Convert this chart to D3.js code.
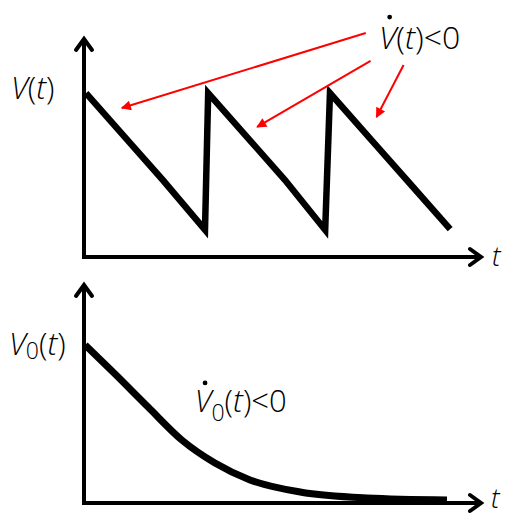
<!DOCTYPE html>
<html>
<head>
<meta charset="utf-8">
<script src="https://cdn.jsdelivr.net/npm/d3@7"></script>
<style>
  html, body { margin: 0; padding: 0; background: #fff; }
  svg { display: block; }
  text { font-family: "Open Sans", "DejaVu Sans", sans-serif; font-weight: 300; fill: #000; }
</style>
</head>
<body>
<svg id="chart" width="505" height="515"></svg>
<script>
// ---- Data ----
// Top panel: sawtooth V(t)
const sawT = [0.05, 1.16, 1.98, 3.04, 3.12, 4.23, 5.05, 6.06, 6.18, 7.29, 8.11, 9.20];
const sawV = [7.45, 5.18, 3.50, 1.23, 7.45, 5.18, 3.50, 1.23, 7.45, 5.18, 3.50, 1.27];

// Bottom panel: decaying V0(t)
const decT = [0.03, 0.78, 1.61, 2.46, 3.29, 4.17, 5.43, 7.11, 9.12];
const decV = [7.18, 5.86, 4.36, 2.86, 1.82, 1.05, 0.50, 0.23, 0.14];

// Annotation arrows (top panel, data units): start and end
const arrowStartT = [7.08, 7.20, 8.03];
const arrowStartV = [10.18, 8.91, 8.73];
const arrowEndT   = [0.95, 4.35, 7.35];
const arrowEndV   = [6.77, 5.91, 6.36];

// Axis extents (data units)
const tDomain = [0, 10];
const vDomain = [0, 10];

// ---- Layout ----
const svg = d3.select("#chart");
const x = d3.scaleLinear().domain(tDomain).range([84, 482]);
const yTop = d3.scaleLinear().domain(vDomain).range([257, 37]);
const yBot = d3.scaleLinear().domain(vDomain).range([503, 283]);

function drawAxes(y) {
  const g = svg.append("g");
  const x0 = x(0), y0 = y(0), xEnd = x(tDomain[1]), yEnd = y(vDomain[1]);
  g.append("line").attr("x1", x0).attr("y1", y0 + 2).attr("x2", x0).attr("y2", yEnd + 1)
    .attr("stroke", "#000").attr("stroke-width", 4);
  g.append("line").attr("x1", x0 - 2).attr("y1", y0).attr("x2", xEnd - 1).attr("y2", y0)
    .attr("stroke", "#000").attr("stroke-width", 4);
  g.append("path")
    .attr("d", `M${x0 - 8},${yEnd + 13} L${x0},${yEnd + 2} L${x0 + 8},${yEnd + 13}`)
    .attr("fill", "none").attr("stroke", "#000").attr("stroke-width", 4)
    .attr("stroke-linejoin", "miter").attr("stroke-linecap", "round");
  g.append("path")
    .attr("d", `M${xEnd - 12},${y0 - 8} L${xEnd - 1},${y0} L${xEnd - 12},${y0 + 8}`)
    .attr("fill", "none").attr("stroke", "#000").attr("stroke-width", 4)
    .attr("stroke-linejoin", "miter").attr("stroke-linecap", "round");
}

drawAxes(yTop);
drawAxes(yBot);

// Sawtooth line
const sawData = sawT.map((t, i) => ({ t, v: sawV[i] }));
svg.append("path")
  .datum(sawData)
  .attr("d", d3.line().x(d => x(d.t)).y(d => yTop(d.v)).curve(d3.curveLinear))
  .attr("fill", "none").attr("stroke", "#000").attr("stroke-width", 6.5)
  .attr("stroke-linejoin", "miter").attr("stroke-miterlimit", 10);

// Decay curve
const decData = decT.map((t, i) => ({ t, v: decV[i] }));
svg.append("path")
  .datum(decData)
  .attr("d", d3.line().x(d => x(d.t)).y(d => yBot(d.v)).curve(d3.curveMonotoneX))
  .attr("fill", "none").attr("stroke", "#000").attr("stroke-width", 7);

// Red arrows
const defs = svg.append("defs");
defs.append("marker")
  .attr("id", "redhead")
  .attr("viewBox", "0 0 10 10")
  .attr("refX", 9).attr("refY", 5)
  .attr("markerWidth", 6).attr("markerHeight", 5)
  .attr("markerUnits", "strokeWidth")
  .attr("orient", "auto")
  .append("path").attr("d", "M0,0 L10,5 L0,10 Z").attr("fill", "#ff0000");

arrowStartT.forEach((t0, i) => {
  svg.append("line")
    .attr("x1", x(t0)).attr("y1", yTop(arrowStartV[i]))
    .attr("x2", x(arrowEndT[i])).attr("y2", yTop(arrowEndV[i]))
    .attr("stroke", "#ff0000").attr("stroke-width", 2)
    .attr("marker-end", "url(#redhead)");
});

// ---- Text labels ----
function label(xp, yp, size, parts) {
  const t = svg.append("text").attr("x", xp).attr("y", yp).style("font-size", size + "px");
  parts.forEach(p => {
    const s = t.append("tspan").text(p.s);
    if (p.i) s.style("font-style", "italic");
    if (p.sub) s.style("font-size", p.sub + "px");
    if (p.dy) s.attr("dy", p.dy);
  });
  return t;
}

// V(t) axis label (top)
label(11, 99, 31, [{ s: "V", i: 1 }, { s: "(" }, { s: "t", i: 1 }, { s: ")" }]);
// V0(t) axis label (bottom)
label(9, 355, 31, [{ s: "V", i: 1 }, { s: "0", sub: 23, dy: 4 }, { s: "(", dy: -4 }, { s: "t", i: 1 }, { s: ")" }]);

// t labels
label(x(tDomain[1]) + 10, yTop(0) + 9, 27, [{ s: "t", i: 1 }]);
label(x(tDomain[1]) + 9, yBot(0) + 5, 27, [{ s: "t", i: 1 }]);

// Vdot(t)<0 (top annotation)
const ann1 = label(x(7.41), yTop(9.45), 32, [{ s: "V", i: 1 }, { s: "(" }, { s: "t", i: 1 }, { s: ")<0" }]);
// Vdot0(t)<0 (bottom annotation)
const ann2 = label(x(2.78), yBot(4.14), 31, [{ s: "V", i: 1 }, { s: "0", sub: 23, dy: 9 }, { s: "(", dy: -9 }, { s: "t", i: 1 }, { s: ")<0" }]);

// Derivative dots over the V glyphs
function dotOver(textSel, lift) {
  const ext = textSel.node().getExtentOfChar(0);
  svg.append("circle")
    .attr("cx", ext.x + ext.width * 0.62)
    .attr("cy", ext.y + lift)
    .attr("r", 2.4)
    .attr("fill", "#000");
}
dotOver(ann1, 2);
dotOver(ann2, 4);
</script>
</body>
</html>
